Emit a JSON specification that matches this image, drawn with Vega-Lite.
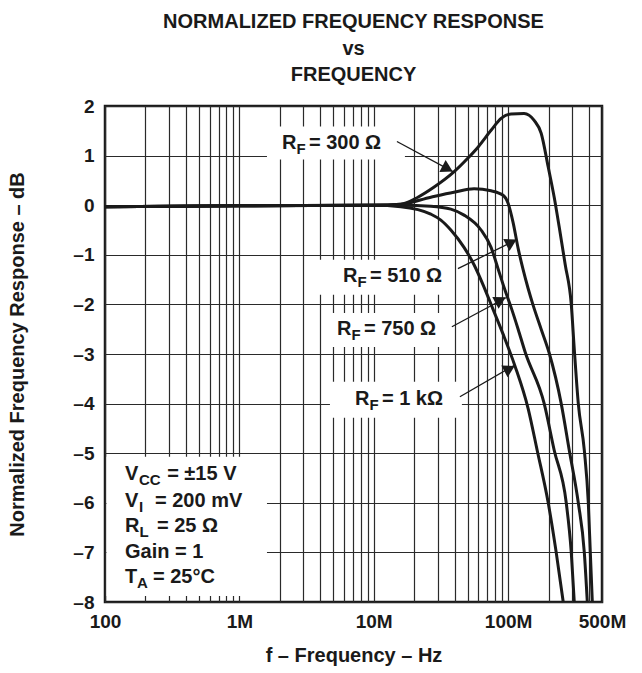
{
  "$schema": "https://vega.github.io/schema/vega-lite/v6.json",
  "width": 497,
  "height": 496,
  "autosize": "none",
  "padding": {"left": 105, "top": 106, "right": 40, "bottom": 71},
  "background": "white",
  "title": {
    "text": ["NORMALIZED FREQUENCY RESPONSE", "vs", "FREQUENCY"],
    "font": "Liberation Sans",
    "fontSize": 20,
    "fontWeight": "bold",
    "color": "#1a1a1a",
    "lineHeight": 26.5,
    "anchor": "middle",
    "frame": "group",
    "baseline": "bottom",
    "offset": 20,
    "dy": 28
  },
  "config": {
    "view": {"stroke": "#1a1a1a", "strokeWidth": 2.5},
    "axis": {
      "gridColor": "#2a2a2a",
      "gridWidth": 1.2,
      "gridOpacity": 1,
      "ticks": false,
      "domain": false,
      "labelFont": "Liberation Sans",
      "labelFontWeight": "bold",
      "labelFontSize": 19,
      "labelColor": "#1a1a1a",
      "titleFont": "Liberation Sans",
      "titleFontWeight": "bold",
      "titleFontSize": 20,
      "titleColor": "#1a1a1a",
      "labelOverlap": false,
      "labelFlush": false
    }
  },
  "datasets": {
    "curves": [
      {"rf": "300", "f": 100000, "db": -0.03},
      {"rf": "300", "f": 1000000, "db": -0.01},
      {"rf": "300", "f": 10000000, "db": 0},
      {"rf": "300", "f": 15900000, "db": 0.02},
      {"rf": "300", "f": 21300000, "db": 0.16},
      {"rf": "300", "f": 28000000, "db": 0.36},
      {"rf": "300", "f": 39500000, "db": 0.67},
      {"rf": "300", "f": 50300000, "db": 0.95},
      {"rf": "300", "f": 59700000, "db": 1.17},
      {"rf": "300", "f": 74700000, "db": 1.51},
      {"rf": "300", "f": 88700000, "db": 1.75},
      {"rf": "300", "f": 105300000, "db": 1.84},
      {"rf": "300", "f": 131600000, "db": 1.85},
      {"rf": "300", "f": 156300000, "db": 1.71},
      {"rf": "300", "f": 176300000, "db": 1.45},
      {"rf": "300", "f": 198900000, "db": 0.77},
      {"rf": "300", "f": 220400000, "db": 0.16},
      {"rf": "300", "f": 240200000, "db": -0.44},
      {"rf": "300", "f": 266300000, "db": -1.2},
      {"rf": "300", "f": 295300000, "db": -2.0},
      {"rf": "300", "f": 310900000, "db": -2.9},
      {"rf": "300", "f": 333100000, "db": -4.0},
      {"rf": "300", "f": 369200000, "db": -4.94},
      {"rf": "300", "f": 395400000, "db": -6.0},
      {"rf": "300", "f": 409200000, "db": -7.0},
      {"rf": "300", "f": 423500000, "db": -8.0},
      {"rf": "510", "f": 100000, "db": -0.03},
      {"rf": "510", "f": 1000000, "db": -0.01},
      {"rf": "510", "f": 10000000, "db": 0},
      {"rf": "510", "f": 15900000, "db": 0.02},
      {"rf": "510", "f": 26600000, "db": 0.16},
      {"rf": "510", "f": 39500000, "db": 0.26},
      {"rf": "510", "f": 55800000, "db": 0.33},
      {"rf": "510", "f": 74700000, "db": 0.29},
      {"rf": "510", "f": 91800000, "db": 0.2},
      {"rf": "510", "f": 100000000, "db": 0.04},
      {"rf": "510", "f": 109000000, "db": -0.35},
      {"rf": "510", "f": 118800000, "db": -0.87},
      {"rf": "510", "f": 129400000, "db": -1.3},
      {"rf": "510", "f": 141000000, "db": -1.68},
      {"rf": "510", "f": 153700000, "db": -2.02},
      {"rf": "510", "f": 176300000, "db": -2.5},
      {"rf": "510", "f": 202300000, "db": -2.98},
      {"rf": "510", "f": 248600000, "db": -4.0},
      {"rf": "510", "f": 285300000, "db": -4.94},
      {"rf": "510", "f": 333100000, "db": -6.0},
      {"rf": "510", "f": 369200000, "db": -7.0},
      {"rf": "510", "f": 388700000, "db": -8.0},
      {"rf": "750", "f": 100000, "db": -0.03},
      {"rf": "750", "f": 1000000, "db": -0.01},
      {"rf": "750", "f": 10000000, "db": 0},
      {"rf": "750", "f": 15900000, "db": 0},
      {"rf": "750", "f": 26600000, "db": -0.02},
      {"rf": "750", "f": 37500000, "db": -0.08},
      {"rf": "750", "f": 47000000, "db": -0.2},
      {"rf": "750", "f": 62900000, "db": -0.5},
      {"rf": "750", "f": 74700000, "db": -0.85},
      {"rf": "750", "f": 84200000, "db": -1.28},
      {"rf": "750", "f": 93400000, "db": -1.66},
      {"rf": "750", "f": 105300000, "db": -2.06},
      {"rf": "750", "f": 118800000, "db": -2.5},
      {"rf": "750", "f": 133900000, "db": -2.96},
      {"rf": "750", "f": 185700000, "db": -4.0},
      {"rf": "750", "f": 220400000, "db": -4.94},
      {"rf": "750", "f": 270900000, "db": -6.0},
      {"rf": "750", "f": 295300000, "db": -7.0},
      {"rf": "750", "f": 310900000, "db": -8.0},
      {"rf": "1k", "f": 100000, "db": -0.03},
      {"rf": "1k", "f": 1000000, "db": -0.01},
      {"rf": "1k", "f": 10000000, "db": 0},
      {"rf": "1k", "f": 15900000, "db": -0.03},
      {"rf": "1k", "f": 26600000, "db": -0.18},
      {"rf": "1k", "f": 31600000, "db": -0.3},
      {"rf": "1k", "f": 37500000, "db": -0.5},
      {"rf": "1k", "f": 47000000, "db": -0.85},
      {"rf": "1k", "f": 55800000, "db": -1.2},
      {"rf": "1k", "f": 66200000, "db": -1.65},
      {"rf": "1k", "f": 77300000, "db": -2.1},
      {"rf": "1k", "f": 91800000, "db": -2.6},
      {"rf": "1k", "f": 112800000, "db": -3.25},
      {"rf": "1k", "f": 141000000, "db": -4.1},
      {"rf": "1k", "f": 164600000, "db": -4.94},
      {"rf": "1k", "f": 198900000, "db": -6.0},
      {"rf": "1k", "f": 228100000, "db": -7.0},
      {"rf": "1k", "f": 257300000, "db": -8.0}
    ],
    "boxes": [
      {"f": 1605000, "f2": 17070000, "db": 1.586, "db2": 0.92},
      {"f": 3528000, "f2": 38170000, "db": -1.098, "db2": -1.804},
      {"f": 4485000, "f2": 38840000, "db": -2.171, "db2": -2.857},
      {"f": 4722000, "f2": 45320000, "db": -3.56, "db2": -4.286},
      {"f": 102600, "f2": 1605000, "db": -5.073, "db2": -7.879}
    ],
    "arrows": [
      {"f": 14880000, "db": 1.284, "f2": 38840000, "db2": 0.678},
      {"f": 42310000, "db": -1.28, "f2": 116300000, "db2": -0.694},
      {"f": 38170000, "db": -2.45, "f2": 96300000, "db2": -1.865},
      {"f": 43790000, "db": -3.862, "f2": 112400000, "db2": -3.221}
    ],
    "headDown": [
      {"f": 35480000, "db": 0.735}
    ],
    "headUp": [
      {"f": 106000000, "db": -0.747},
      {"f": 87930000, "db": -1.913},
      {"f": 102600000, "db": -3.296}
    ],
    "labels": [
      {"f": 2075000, "db": 1.142, "t": "R"},
      {"f": 3296000, "db": 1.142, "t": "= 300 Ω"},
      {"f": 5899000, "db": -1.542, "t": "R"},
      {"f": 9369000, "db": -1.542, "t": "= 510 Ω"},
      {"f": 5323000, "db": -2.612, "t": "R"},
      {"f": 8455000, "db": -2.612, "t": "= 750 Ω"},
      {"f": 7247000, "db": -4.024, "t": "R"},
      {"f": 11510000, "db": -4.024, "t": "= 1 kΩ"},
      {"f": 140900, "db": -5.538, "t": "V"},
      {"f": 290000, "db": -5.538, "t": "= ±15 V"},
      {"f": 140900, "db": -6.083, "t": "V"},
      {"f": 235500, "db": -6.083, "t": "= 200 mV"},
      {"f": 140900, "db": -6.587, "t": "R"},
      {"f": 243700, "db": -6.587, "t": "= 25 Ω"},
      {"f": 140900, "db": -7.112, "t": "Gain = 1"},
      {"f": 140900, "db": -7.617, "t": "T"},
      {"f": 227600, "db": -7.617, "t": "= 25°C"}
    ],
    "subs": [
      {"f": 2660000, "db": 1.041, "t": "F"},
      {"f": 7562000, "db": -1.643, "t": "F"},
      {"f": 6826000, "db": -2.712, "t": "F"},
      {"f": 9290000, "db": -4.125, "t": "F"},
      {"f": 179100, "db": -5.639, "t": "CC"},
      {"f": 179100, "db": -6.184, "t": "I"},
      {"f": 180600, "db": -6.688, "t": "L"},
      {"f": 173000, "db": -7.717, "t": "A"}
    ]
  },
  "encoding": {
    "x": {
      "field": "f",
      "type": "quantitative",
      "scale": {"type": "log", "domain": [100000, 500000000], "nice": false},
      "axis": {
        "values": [100000, 200000, 300000, 400000, 500000, 600000, 700000, 800000, 900000,
                   1000000, 2000000, 3000000, 4000000, 5000000, 6000000, 7000000, 8000000, 9000000,
                   10000000, 20000000, 30000000, 40000000, 50000000, 60000000, 70000000, 80000000, 90000000,
                   100000000, 200000000, 300000000, 400000000, 500000000],
        "labelExpr": "datum.value == 100000 ? '100' : datum.value == 1000000 ? '1M' : datum.value == 10000000 ? '10M' : datum.value == 100000000 ? '100M' : datum.value == 500000000 ? '500M' : ''",
        "grid": true,
        "labelPadding": 10,
        "title": "f – Frequency – Hz",
        "titlePadding": 14
      }
    },
    "y": {
      "field": "db",
      "type": "quantitative",
      "scale": {"domain": [-8, 2], "nice": false},
      "axis": {
        "values": [-8, -7, -6, -5, -4, -3, -2, -1, 0, 1, 2],
        "labelExpr": "datum.value < 0 ? '–' + abs(datum.value) : '' + datum.value",
        "grid": true,
        "labelPadding": 11,
        "title": "Normalized Frequency Response – dB",
        "titlePadding": 45
      }
    }
  },
  "layer": [
    {
      "data": {"name": "boxes"},
      "mark": {"type": "rect", "fill": "white", "strokeWidth": 0},
      "encoding": {"x2": {"field": "f2"}, "y2": {"field": "db2"}}
    },
    {
      "data": {"name": "curves"},
      "mark": {"type": "line", "color": "#1a1a1a", "strokeWidth": 3, "interpolate": "monotone"},
      "encoding": {"detail": {"field": "rf"}}
    },
    {
      "data": {"name": "arrows"},
      "mark": {"type": "rule", "color": "#1a1a1a", "strokeWidth": 1.3},
      "encoding": {"x2": {"field": "f2"}, "y2": {"field": "db2"}}
    },
    {
      "data": {"name": "headDown"},
      "mark": {"type": "point", "shape": "triangle-up", "filled": true, "color": "#1a1a1a", "opacity": 1, "size": 180, "angle": 118},
      "encoding": {}
    },
    {
      "data": {"name": "headUp"},
      "mark": {"type": "point", "shape": "triangle-up", "filled": true, "color": "#1a1a1a", "opacity": 1, "size": 180, "angle": 62},
      "encoding": {}
    },
    {
      "data": {"name": "labels"},
      "mark": {"type": "text", "align": "left", "baseline": "alphabetic", "font": "Liberation Sans", "fontSize": 20, "fontWeight": "bold", "color": "#1a1a1a"},
      "encoding": {"text": {"field": "t"}}
    },
    {
      "data": {"name": "subs"},
      "mark": {"type": "text", "align": "left", "baseline": "alphabetic", "font": "Liberation Sans", "fontSize": 15, "fontWeight": "bold", "color": "#1a1a1a"},
      "encoding": {"text": {"field": "t"}}
    }
  ]
}
